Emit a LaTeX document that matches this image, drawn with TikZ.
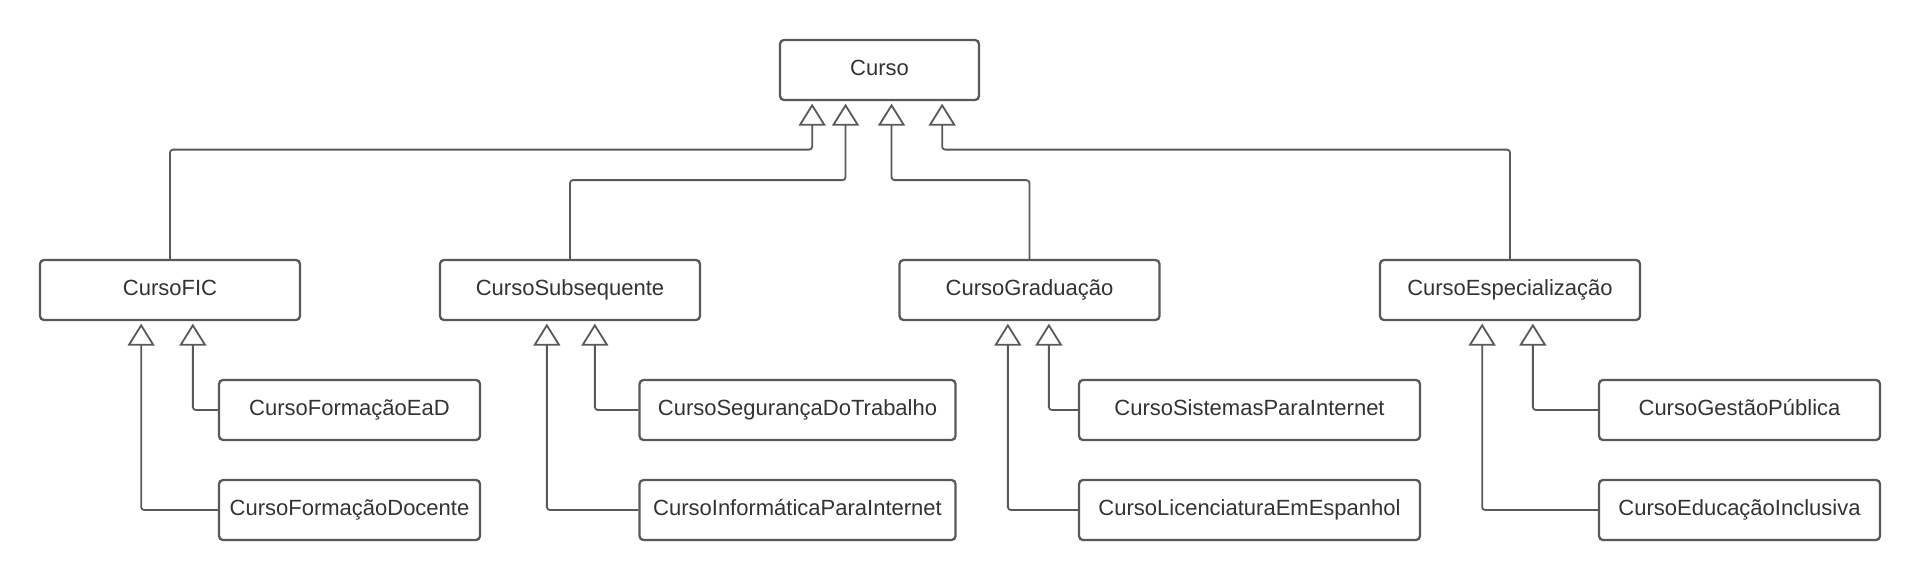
\documentclass[tikz,border=0pt]{standalone}
\usepackage{fontspec}
\setmainfont{Liberation Sans}
\usetikzlibrary{arrows.meta,calc}
\definecolor{ln}{HTML}{595959}
\definecolor{tx}{HTML}{333333}
\begin{document}
\begin{tikzpicture}[x=1pt,y=-1pt,
  cls/.style={draw=ln, line width=2.3pt, rounded corners=4pt, fill=white, text=tx,
    inner sep=0pt, minimum height=60pt, text height=16pt, text depth=5pt,
    font=\fontsize{22}{26}\selectfont},
  inh/.style={draw=ln, line width=1.8pt, rounded corners=3pt,
    -{Triangle[open, length=22pt, width=27pt, fill=white]}}]
\useasboundingbox (0,0) rectangle (1920,580);

% classes
\node[cls, minimum width=199pt] (curso) at (879.5,70) {Curso};
\node[cls, minimum width=260pt] (fic)  at (170,290)    {CursoFIC};
\node[cls, minimum width=260pt] (sub)  at (570,290)    {CursoSubsequente};
\node[cls, minimum width=260pt] (grad) at (1029.5,290) {CursoGraduação};
\node[cls, minimum width=260pt] (esp)  at (1510,290)   {CursoEspecialização};

\node[cls, minimum width=261pt] (fead) at (349.5,410) {CursoFormaçãoEaD};
\node[cls, minimum width=261pt] (fdoc) at (349.5,510) {CursoFormaçãoDocente};
\node[cls, minimum width=316pt] (seg)  at (797.5,410) {CursoSegurançaDoTrabalho};
\node[cls, minimum width=316pt] (info) at (797.5,510) {CursoInformáticaParaInternet};
\node[cls, minimum width=341pt] (sis)  at (1249.5,410) {CursoSistemasParaInternet};
\node[cls, minimum width=341pt] (lic)  at (1249.5,510) {CursoLicenciaturaEmEspanhol};
\node[cls, minimum width=281pt] (gp)   at (1739.5,410) {CursoGestãoPública};
\node[cls, minimum width=281pt] (edu)  at (1739.5,510) {CursoEducaçãoInclusiva};

% level 1 generalisations
\draw[inh] (fic.north)  |- ($(curso.south west)+(33.3,48.5)$)  -- ($(curso.south west)+(33.3,2.5)$);
\draw[inh] (sub.north)  |- ($(curso.south west)+(66.7,79)$)    -- ($(curso.south west)+(66.7,2.5)$);
\draw[inh] (grad.north) |- ($(curso.south west)+(112.7,79)$)   -- ($(curso.south west)+(112.7,2.5)$);
\draw[inh] (esp.north)  |- ($(curso.south west)+(163.3,48.5)$) -- ($(curso.south west)+(163.3,2.5)$);

% level 2 generalisations
\draw[inh] (fead.west) -| ($(fic.south west)+(154,2.5)$);
\draw[inh] (fdoc.west) -| ($(fic.south west)+(102.3,2.5)$);
\draw[inh] (seg.west)  -| ($(sub.south west)+(156,2.5)$);
\draw[inh] (info.west) -| ($(sub.south west)+(108,2.5)$);
\draw[inh] (sis.west)  -| ($(grad.south west)+(150.5,2.5)$);
\draw[inh] (lic.west)  -| ($(grad.south west)+(109.5,2.5)$);
\draw[inh] (gp.west)   -| ($(esp.south west)+(154,2.5)$);
\draw[inh] (edu.west)  -| ($(esp.south west)+(103.3,2.5)$);
\end{tikzpicture}
\end{document}
